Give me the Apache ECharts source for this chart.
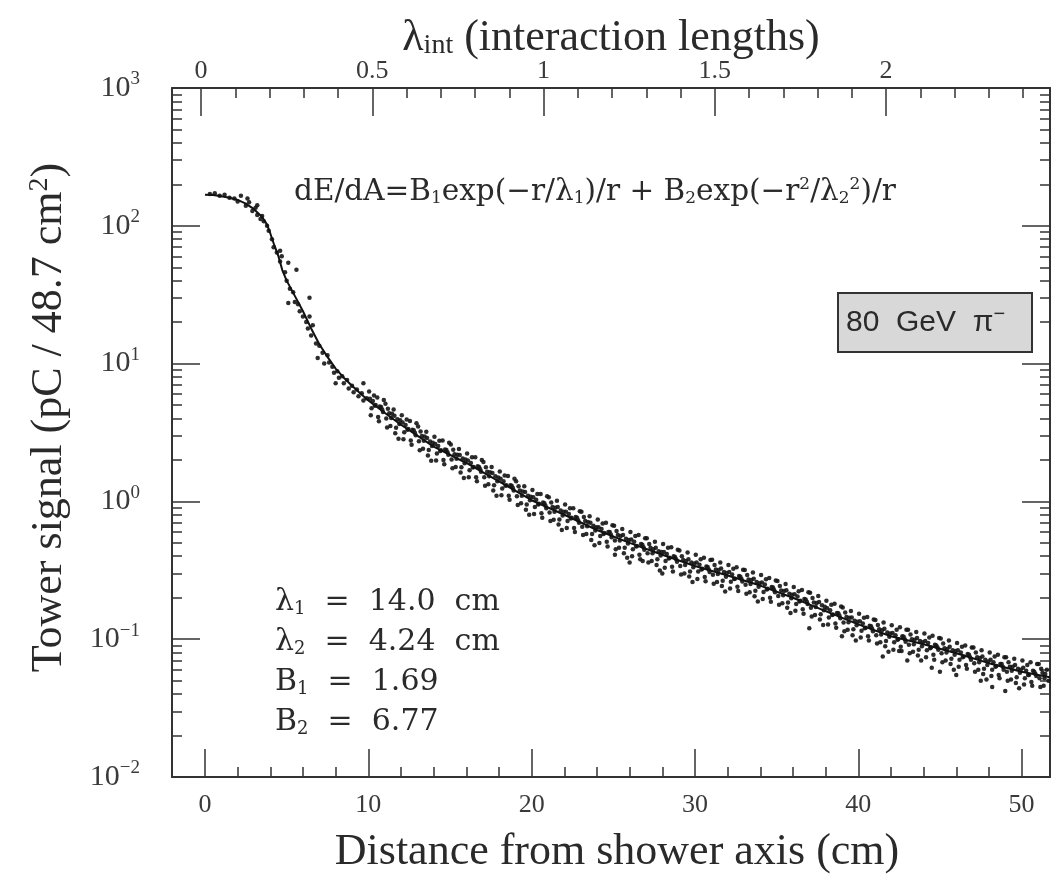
<!DOCTYPE html>
<html>
<head>
<meta charset="utf-8">
<title>Tower signal vs distance from shower axis</title>
<script src="https://cdn.jsdelivr.net/npm/echarts@6/dist/echarts.min.js"></script>
<style>
  html, body { margin: 0; padding: 0; background: #fff; }
  #chart { width: 1051px; height: 877px; }
</style>
</head>
<body>
<div id="chart"></div>
<script>
// fitted curve dE/dA (cm, pC)
const fitDist = [0, 0.5, 1, 1.5, 2, 2.5, 3, 3.5, 3.8, 4, 4.25, 4.5, 4.75, 5, 5.5, 6, 6.5, 7, 7.5, 8, 8.5, 9, 9.5, 10,
  11, 12, 13, 14, 16, 18, 20, 22, 24, 26, 28, 30, 32, 34, 36, 38, 40, 42, 44, 46, 48, 50, 51.74]
const fitSignal = [168, 167, 164, 160, 154, 145, 132, 116, 102, 88, 72, 60, 47, 40, 31, 24, 18, 13.8, 11.2, 9.2, 7.9, 6.9, 6.1, 5.4,
  4.4, 3.6, 3.0, 2.5, 1.9, 1.4, 1.02, 0.8, 0.62, 0.5, 0.41, 0.34, 0.29, 0.245, 0.2, 0.16, 0.128, 0.105, 0.092, 0.079, 0.067, 0.058, 0.053]

const pointsCore = [[0.3, 170], [0.6, 172], [0.9, 165], [1.2, 168], [1.5, 160], [1.8, 158], [2.0, 150], [2.2, 165], [2.5, 140],
  [2.6, 158], [2.7, 148], [2.9, 128], [3.1, 135], [3.2, 141], [3.2, 120], [3.4, 112], [3.5, 118], [3.6, 108], [3.8, 100],
  [3.9, 92], [4.1, 80], [4.2, 70], [4.4, 64], [4.6, 66], [4.6, 55], [4.7, 60], [4.9, 46], [5.0, 40], [5.1, 54], [5.1, 27.5],
  [5.2, 35], [5.4, 33], [5.5, 28], [5.6, 48], [5.7, 27], [5.8, 24], [6.0, 22], [6.2, 20], [6.3, 18], [6.4, 30], [6.4, 22],
  [6.5, 16], [6.6, 19], [6.8, 14], [6.9, 11], [7.0, 13.5], [7.2, 12], [7.3, 10], [7.5, 11.5], [7.6, 10.2], [7.8, 9.5],
  [7.9, 8.6], [8.0, 7.2], [8.1, 8.8], [8.2, 7.9], [8.4, 8.1], [8.5, 7.2], [8.7, 7.6], [8.8, 6.6], [9.0, 6.9], [9.1, 6.2],
  [9.3, 6.5], [9.4, 5.8], [9.6, 6.1], [9.7, 7.2], [9.7, 5.4], [9.9, 5.6]]

const pointsMid = [[10.1, 5.56], [10.2, 4.74], [10.35, 5.87], [10.45, 5.0], [10.6, 4.09], [10.7, 4.88], [10.85, 4.65], [10.95, 5.44],
  [11.1, 3.99], [11.2, 4.7], [11.35, 3.53], [11.45, 4.33], [11.6, 4.18], [11.7, 3.42], [11.85, 2.85], [11.95, 3.88],
  [12.1, 3.73], [12.2, 3.17], [12.35, 3.93], [12.45, 3.35], [12.6, 2.77], [12.7, 3.31], [12.85, 3.15], [12.95, 3.69],
  [13.1, 2.73], [13.2, 3.21], [13.35, 2.41], [13.45, 2.96], [13.6, 2.88], [13.7, 2.36], [13.85, 1.97], [13.95, 2.67],
  [14.1, 2.61], [14.2, 2.23], [14.35, 2.76], [14.45, 2.35], [14.6, 2.0], [14.7, 2.38], [14.85, 2.27], [14.95, 2.66],
  [15.1, 2.01], [15.2, 2.37], [15.35, 1.78], [15.45, 2.18], [15.6, 2.17], [15.7, 1.77], [15.85, 1.48], [15.95, 2.01],
  [16.1, 1.98], [16.2, 1.68], [16.35, 2.09], [16.45, 1.78], [16.6, 1.5], [16.7, 1.8], [16.85, 1.71], [16.95, 2.0],
  [17.1, 1.5], [17.2, 1.77], [17.35, 1.33], [17.45, 1.63], [17.6, 1.61], [17.7, 1.31], [17.85, 1.1], [17.95, 1.49],
  [18.1, 1.46], [18.2, 1.24], [18.35, 1.54], [18.45, 1.31], [18.6, 1.1], [18.7, 1.31], [18.85, 1.25], [18.95, 1.46],
  [19.1, 1.09], [19.2, 1.29], [19.35, 0.97], [19.45, 1.18], [19.6, 1.17], [19.7, 0.95], [19.85, 0.8], [19.95, 1.08],
  [20.1, 1.07], [20.2, 0.91], [20.35, 1.13], [20.45, 0.96], [20.6, 0.82], [20.7, 0.98], [20.85, 0.93], [20.95, 1.09],
  [21.1, 0.83], [21.2, 0.98], [21.35, 0.735], [21.45, 0.9], [21.6, 0.91], [21.7, 0.74], [21.85, 0.62], [21.95, 0.84],
  [22.1, 0.84], [22.2, 0.72], [22.35, 0.89], [22.45, 0.76], [22.6, 0.64], [22.7, 0.77], [22.85, 0.73], [22.95, 0.85],
  [23.1, 0.655], [23.2, 0.77], [23.35, 0.58], [23.45, 0.71], [23.6, 0.70], [23.7, 0.58], [23.85, 0.48], [23.95, 0.65],
  [24.1, 0.65], [24.2, 0.56], [24.35, 0.69], [24.45, 0.59], [24.6, 0.51], [24.7, 0.60], [24.85, 0.575], [24.95, 0.67],
  [25.1, 0.52], [25.2, 0.61], [25.35, 0.46], [25.45, 0.56], [25.6, 0.57], [25.7, 0.46], [25.85, 0.39], [25.95, 0.525],
  [26.1, 0.53], [26.2, 0.45], [26.35, 0.56], [26.45, 0.475], [26.6, 0.41], [26.7, 0.49], [26.85, 0.465], [26.95, 0.54],
  [27.1, 0.42], [27.2, 0.49], [27.35, 0.37], [27.45, 0.45], [27.6, 0.46], [27.7, 0.38], [27.85, 0.315], [27.95, 0.43],
  [28.1, 0.43], [28.2, 0.37], [28.35, 0.46], [28.45, 0.39], [28.6, 0.335], [28.7, 0.40], [28.85, 0.38], [28.95, 0.445],
  [29.1, 0.34], [29.2, 0.40], [29.35, 0.30], [29.45, 0.37], [29.6, 0.38], [29.7, 0.31], [29.85, 0.26], [29.95, 0.354]]

const pointsMid2 = [[10.05, 6.28], [10.15, 4.22], [10.28, 5.36], [10.4, 4.94], [10.55, 5.67], [10.65, 3.81], [10.78, 4.84], [10.9, 4.46],
  [11.05, 5.12], [11.15, 3.44], [11.28, 4.37], [11.4, 4.03], [11.55, 4.64], [11.65, 3.12], [11.78, 3.95], [11.9, 3.65],
  [12.05, 4.21], [12.15, 2.83], [12.28, 3.59], [12.4, 3.31], [12.55, 3.84], [12.65, 2.58], [12.78, 3.28], [12.9, 3.02],
  [13.05, 3.5], [13.15, 2.35], [13.28, 2.98], [13.4, 2.76], [13.55, 3.2], [13.65, 2.15], [13.78, 2.72], [13.9, 2.52],
  [14.05, 2.95], [14.15, 1.98], [14.28, 2.52], [14.4, 2.32], [14.55, 2.77], [14.65, 1.86], [14.78, 2.36], [14.9, 2.18],
  [15.05, 2.59], [15.15, 1.74], [15.28, 2.2], [15.4, 2.04], [15.55, 2.4], [15.65, 1.62], [15.78, 2.05], [15.9, 1.89],
  [16.05, 2.23], [16.15, 1.5], [16.28, 1.9], [16.4, 1.76], [16.55, 2.09], [16.65, 1.4], [16.78, 1.78], [16.9, 1.64],
  [17.05, 1.93], [17.15, 1.3], [17.28, 1.64], [17.4, 1.52], [17.55, 1.78], [17.65, 1.2], [17.78, 1.52], [17.9, 1.4],
  [18.05, 1.65], [18.15, 1.11], [18.28, 1.4], [18.4, 1.3], [18.55, 1.53], [18.65, 1.03], [18.78, 1.3], [18.9, 1.2],
  [19.05, 1.4], [19.15, 0.94], [19.28, 1.2], [19.4, 1.1], [19.55, 1.29], [19.65, 0.87], [19.78, 1.1], [19.9, 1.02],
  [20.05, 1.21], [20.15, 0.81], [20.28, 1.03], [20.4, 0.95], [20.55, 1.13], [20.65, 0.76], [20.78, 0.97], [20.9, 0.89],
  [21.05, 1.07], [21.15, 0.72], [21.28, 0.91], [21.4, 0.84], [21.55, 1.01], [21.65, 0.68], [21.78, 0.86], [21.9, 0.79],
  [22.05, 0.95], [22.15, 0.64], [22.28, 0.81], [22.4, 0.75], [22.55, 0.89], [22.65, 0.6], [22.78, 0.76], [22.9, 0.7],
  [23.05, 0.84], [23.15, 0.57], [23.28, 0.72], [23.4, 0.66], [23.55, 0.78], [23.65, 0.525], [23.78, 0.665], [23.9, 0.615],
  [24.05, 0.74], [24.15, 0.5], [24.28, 0.63], [24.4, 0.58], [24.55, 0.7], [24.65, 0.47], [24.78, 0.6], [24.9, 0.55],
  [25.05, 0.665], [25.15, 0.45], [25.28, 0.57], [25.4, 0.52], [25.55, 0.63], [25.65, 0.42], [25.78, 0.535], [25.9, 0.495],
  [26.05, 0.6], [26.15, 0.4], [26.28, 0.51], [26.4, 0.47], [26.55, 0.57], [26.65, 0.38], [26.78, 0.485], [26.9, 0.445],
  [27.05, 0.54], [27.15, 0.36], [27.28, 0.46], [27.4, 0.42], [27.55, 0.51], [27.65, 0.345], [27.78, 0.435], [27.9, 0.405],
  [28.05, 0.49], [28.15, 0.33], [28.28, 0.415], [28.4, 0.385], [28.55, 0.465], [28.65, 0.31], [28.78, 0.395], [28.9, 0.365],
  [29.05, 0.44], [29.15, 0.295], [29.28, 0.375], [29.4, 0.345], [29.55, 0.425], [29.65, 0.285], [29.78, 0.36], [29.9, 0.333]]

const pointsTail = [[30.1, 0.36], [30.2, 0.31], [30.35, 0.38], [30.45, 0.324], [30.6, 0.283], [30.7, 0.337], [30.85, 0.321], [30.95, 0.376],
  [31.1, 0.294], [31.2, 0.346], [31.35, 0.26], [31.45, 0.318], [31.6, 0.326], [31.7, 0.266], [31.85, 0.222], [31.95, 0.302],
  [32.1, 0.307], [32.2, 0.261], [32.35, 0.324], [32.45, 0.275], [32.6, 0.24], [32.7, 0.287], [32.85, 0.273], [32.95, 0.319],
  [33.1, 0.248], [33.2, 0.292], [33.35, 0.219], [33.45, 0.269], [33.6, 0.275], [33.7, 0.225], [33.85, 0.188], [33.95, 0.255],
  [34.1, 0.258], [34.2, 0.22], [34.35, 0.272], [34.45, 0.232], [34.6, 0.2], [34.7, 0.239], [34.85, 0.228], [34.95, 0.267],
  [35.1, 0.206], [35.2, 0.243], [35.35, 0.182], [35.45, 0.224], [35.6, 0.227], [35.7, 0.185], [35.85, 0.155], [35.95, 0.21],
  [36.1, 0.212], [36.2, 0.18], [36.35, 0.223], [36.45, 0.19], [36.6, 0.165], [36.7, 0.196], [36.85, 0.187], [36.95, 0.219],
  [37.1, 0.169], [37.2, 0.199], [37.35, 0.15], [37.45, 0.183], [37.6, 0.186], [37.7, 0.152], [37.85, 0.127], [37.95, 0.172],
  [38.1, 0.168], [38.2, 0.144], [38.35, 0.178], [38.45, 0.151], [38.6, 0.13], [38.7, 0.155], [38.85, 0.148], [38.95, 0.173],
  [39.1, 0.132], [39.2, 0.156], [39.35, 0.117], [39.45, 0.143], [39.6, 0.144], [39.7, 0.118], [39.85, 0.098], [39.95, 0.134],
  [40.1, 0.135], [40.2, 0.115], [40.35, 0.143], [40.45, 0.121], [40.6, 0.105], [40.7, 0.125], [40.85, 0.119], [40.95, 0.139],
  [41.1, 0.107], [41.2, 0.127], [41.35, 0.095], [41.45, 0.116], [41.6, 0.119], [41.7, 0.097], [41.85, 0.081], [41.95, 0.11],
  [42.1, 0.111], [42.2, 0.095], [42.35, 0.117], [42.45, 0.1], [42.6, 0.088], [42.7, 0.105], [42.85, 0.1], [42.95, 0.117],
  [43.1, 0.091], [43.2, 0.108], [43.35, 0.081], [43.45, 0.099], [43.6, 0.102], [43.7, 0.084], [43.85, 0.07], [43.95, 0.095],
  [44.1, 0.097], [44.2, 0.083], [44.35, 0.103], [44.45, 0.087], [44.6, 0.077], [44.7, 0.091], [44.85, 0.087], [44.95, 0.102],
  [45.1, 0.079], [45.2, 0.093], [45.35, 0.07], [45.45, 0.085], [45.6, 0.088], [45.7, 0.072], [45.85, 0.06], [45.95, 0.082],
  [46.1, 0.083], [46.2, 0.071], [46.35, 0.088], [46.45, 0.075], [46.6, 0.065], [46.7, 0.078], [46.85, 0.074], [46.95, 0.087],
  [47.1, 0.067], [47.2, 0.08], [47.35, 0.06], [47.45, 0.073], [47.6, 0.075], [47.7, 0.061], [47.85, 0.051], [47.95, 0.069],
  [48.1, 0.071], [48.2, 0.06], [48.35, 0.075], [48.45, 0.064], [48.6, 0.055], [48.7, 0.066], [48.85, 0.063], [48.95, 0.074],
  [49.1, 0.058], [49.2, 0.068], [49.35, 0.051], [49.45, 0.063], [49.6, 0.065], [49.7, 0.053], [49.85, 0.044], [49.95, 0.06],
  [50.1, 0.062], [50.2, 0.052], [50.35, 0.065], [50.45, 0.055], [50.6, 0.049], [50.7, 0.059], [50.85, 0.056], [50.95, 0.066],
  [51.1, 0.052], [51.2, 0.061], [51.35, 0.046], [51.45, 0.056]]

const pointsTail2 = [[30.05, 0.41], [30.15, 0.274], [30.28, 0.347], [30.4, 0.32], [30.55, 0.39], [30.65, 0.263], [30.78, 0.334], [30.9, 0.308],
  [31.05, 0.377], [31.15, 0.253], [31.28, 0.321], [31.4, 0.297], [31.55, 0.361], [31.65, 0.243], [31.78, 0.308], [31.9, 0.284],
  [32.05, 0.346], [32.15, 0.233], [32.28, 0.295], [32.4, 0.273], [32.55, 0.333], [32.65, 0.224], [32.78, 0.284], [32.9, 0.262],
  [33.05, 0.318], [33.15, 0.214], [33.28, 0.271], [33.4, 0.251], [33.55, 0.305], [33.65, 0.205], [33.78, 0.26], [33.9, 0.24],
  [34.05, 0.292], [34.15, 0.196], [34.28, 0.249], [34.4, 0.229], [34.55, 0.278], [34.65, 0.187], [34.78, 0.237], [34.9, 0.219],
  [35.05, 0.265], [35.15, 0.178], [35.28, 0.226], [35.4, 0.208], [35.55, 0.251], [35.65, 0.169], [35.78, 0.214], [35.9, 0.198],
  [36.05, 0.239], [36.15, 0.161], [36.28, 0.204], [36.4, 0.188], [36.55, 0.228], [36.65, 0.153], [36.78, 0.194], [36.9, 0.18],
  [37.05, 0.217], [37.15, 0.146], [37.28, 0.185], [37.4, 0.171], [37.55, 0.206], [37.65, 0.139], [37.78, 0.176], [37.9, 0.162],
  [38.05, 0.19], [38.15, 0.128], [38.28, 0.162], [38.4, 0.15], [38.55, 0.181], [38.65, 0.121], [38.78, 0.154], [38.9, 0.142],
  [39.05, 0.17], [39.15, 0.114], [39.28, 0.145], [39.4, 0.133], [39.55, 0.16], [39.65, 0.107], [39.78, 0.136], [39.9, 0.126],
  [40.05, 0.153], [40.15, 0.103], [40.28, 0.13], [40.4, 0.12], [40.55, 0.145], [40.65, 0.098], [40.78, 0.124], [40.9, 0.114],
  [41.05, 0.138], [41.15, 0.093], [41.28, 0.118], [41.4, 0.108], [41.55, 0.132], [41.65, 0.089], [41.78, 0.112], [41.9, 0.104],
  [42.05, 0.126], [42.15, 0.084], [42.28, 0.107], [42.4, 0.099], [42.55, 0.122], [42.65, 0.082], [42.78, 0.104], [42.9, 0.096],
  [43.05, 0.117], [43.15, 0.079], [43.28, 0.1], [43.4, 0.092], [43.55, 0.113], [43.65, 0.076], [43.78, 0.097], [43.9, 0.089],
  [44.05, 0.11], [44.15, 0.074], [44.28, 0.094], [44.4, 0.086], [44.55, 0.106], [44.65, 0.071], [44.78, 0.09], [44.9, 0.084],
  [45.05, 0.101], [45.15, 0.068], [45.28, 0.086], [45.4, 0.08], [45.55, 0.098], [45.65, 0.066], [45.78, 0.083], [45.9, 0.077],
  [46.05, 0.094], [46.15, 0.063], [46.28, 0.08], [46.4, 0.074], [46.55, 0.09], [46.65, 0.061], [46.78, 0.077], [46.9, 0.071],
  [47.05, 0.087], [47.15, 0.058], [47.28, 0.074], [47.4, 0.068], [47.55, 0.083], [47.65, 0.056], [47.78, 0.071], [47.9, 0.065],
  [48.05, 0.08], [48.15, 0.054], [48.28, 0.068], [48.4, 0.063], [48.55, 0.077], [48.65, 0.052], [48.78, 0.066], [48.9, 0.06],
  [49.05, 0.074], [49.15, 0.05], [49.28, 0.063], [49.4, 0.059], [49.55, 0.072], [49.65, 0.048], [49.78, 0.061], [49.9, 0.057],
  [50.05, 0.07], [50.15, 0.047], [50.28, 0.059], [50.4, 0.055], [50.55, 0.068], [50.65, 0.046], [50.78, 0.058], [50.9, 0.054],
  [51.05, 0.066], [51.15, 0.045], [51.28, 0.057], [51.4, 0.052], [51.55, 0.06], [51.65, 0.05]]

// scattered low points
const pointsStray = [[25.1, 0.41], [26.0, 0.36], [26.8, 0.37], [28.0, 0.3], [37.0, 0.12], [39.0, 0.105], [41.5, 0.075],
  [42.5, 0.082], [43.0, 0.07], [44.5, 0.062], [45.0, 0.058], [46.0, 0.055], [47.5, 0.05], [48.2, 0.045], [49.0, 0.042]]

// tick labels
const distTicks = [0, 10, 20, 30, 40, 50]
const distMinor = [2, 4, 6, 8, 12, 14, 16, 18, 22, 24, 26, 28, 32, 34, 36, 38, 42, 44, 46, 48]
const lambdaTicks = [0, 0.5, 1, 1.5, 2]
const lambdaMinor = [0.1, 0.2, 0.3, 0.4, 0.6, 0.7, 0.8, 0.9, 1.1, 1.2, 1.3, 1.4, 1.6, 1.7, 1.8, 1.9, 2.1, 2.2, 2.3, 2.4]
const signalDecades = [-2, -1, 0, 1, 2]
const signalMinor = [2, 3, 4, 5, 6, 7, 8, 9]

const serif = 'Liberation Serif'
const ink = '#2a2a2a'

// minor ticks of the log axis, placed on a log10 value axis
const logMinor = []
signalDecades.forEach(d => {
  signalMinor.forEach(m => {
    logMinor.push(d + Math.log10(m))
  })
})

const myChart = echarts.init(document.getElementById('chart'))

function frameX(pos, min, max, ticks, len, extra) {
  return Object.assign({
    type: 'value',
    position: pos,
    min: min,
    max: max,
    axisLine: { show: false, onZero: false },
    axisTick: { show: true, inside: true, length: len, customValues: ticks, lineStyle: { color: '#333', width: 1.5 } },
    axisLabel: { show: false },
    splitLine: { show: false }
  }, extra || {})
}

function logLabel(v) {
  const e = Math.round(Math.log10(v))
  return '{b|10}{s|' + (e < 0 ? '\u2212' + (-e) : e) + '}'
}

const frameLine = { show: true, onZero: false, lineStyle: { color: '#333', width: 2 } }

const option = {
  animation: false,
  backgroundColor: '#fff',
  grid: { left: 172, right: 1, top: 88, bottom: 100, outerBoundsMode: 'none' },
  xAxis: [
    frameX('bottom', -2.02, 51.74, distTicks, 28, {
      axisLine: frameLine,
      name: 'Distance from shower axis (cm)',
      nameLocation: 'middle',
      nameGap: 53,
      nameMoveOverlap: false,
      nameTextStyle: { fontFamily: serif, fontSize: 44, color: ink, padding: [0, 0, 0, 12] },
      axisLabel: { show: true, customValues: distTicks, fontFamily: serif, fontSize: 26, color: '#3a3a3a', margin: 15 }
    }),
    frameX('bottom', -2.02, 51.74, distMinor, 10),
    frameX('top', -0.0847, 2.4788, lambdaTicks, 28, {
      axisLine: frameLine,
      name: '{l|\u03bb}{sub|int} (interaction lengths)',
      nameLocation: 'middle',
      nameGap: 28,
      nameMoveOverlap: false,
      nameTextStyle: {
        fontFamily: serif, fontSize: 44, color: ink,
        rich: {
          l: { fontFamily: serif, fontSize: 44, color: ink },
          sub: { fontFamily: serif, fontSize: 28, color: ink, padding: [16, 0, 0, 0] }
        }
      },
      axisLabel: { show: true, customValues: lambdaTicks, fontFamily: serif, fontSize: 26, color: '#3a3a3a', margin: 4 }
    }),
    frameX('top', -0.0847, 2.4788, lambdaMinor, 10)
  ],
  yAxis: [
    {
      type: 'log',
      position: 'left',
      min: 0.01,
      max: 1000,
      interval: 1,
      axisLine: frameLine,
      axisTick: { show: true, inside: true, length: 28, lineStyle: { color: '#333', width: 1.5 } },
      axisLabel: {
        margin: 32,
        formatter: logLabel,
        rich: {
          b: { fontFamily: serif, fontSize: 30, color: '#3a3a3a' },
          s: { fontFamily: serif, fontSize: 19, color: '#3a3a3a', padding: [0, 0, 17, 0] }
        }
      },
      splitLine: { show: false },
      name: 'Tower signal (pC / 48.7 cm{s|2})',
      nameLocation: 'middle',
      nameGap: 100,
      nameMoveOverlap: false,
      nameTextStyle: {
        fontFamily: serif, fontSize: 44, color: ink, padding: [0, 0, 0, 30],
        rich: { s: { fontFamily: serif, fontSize: 28, color: ink, padding: [0, 0, 18, 0] } }
      }
    },
    {
      type: 'value',
      position: 'left',
      min: -2,
      max: 3,
      axisLine: { show: false, onZero: false },
      axisTick: { show: true, inside: true, length: 10, customValues: logMinor, lineStyle: { color: '#333', width: 1.5 } },
      axisLabel: { show: false },
      splitLine: { show: false }
    },
    {
      type: 'log',
      position: 'right',
      min: 0.01,
      max: 1000,
      interval: 1,
      axisLine: frameLine,
      axisTick: { show: true, inside: true, length: 28, lineStyle: { color: '#333', width: 1.5 } },
      axisLabel: { show: false },
      splitLine: { show: false }
    },
    {
      type: 'value',
      position: 'right',
      min: -2,
      max: 3,
      axisLine: { show: false, onZero: false },
      axisTick: { show: true, inside: true, length: 10, customValues: logMinor, lineStyle: { color: '#333', width: 1.5 } },
      axisLabel: { show: false },
      splitLine: { show: false }
    }
  ],
  graphic: [
    {
      type: 'text',
      x: 294,
      y: 192,
      style: {
        text: 'dE/dA=B{sub|1}exp(\u2212r/\u03bb{sub|1})/r + B{sub|2}exp(\u2212r{sup|2}/\u03bb{sub|2}{sup|2})/r',
        fontFamily: 'DejaVu Serif',
        fontSize: 29.5,
        fill: ink,
        verticalAlign: 'middle',
        rich: {
          sub: { fontFamily: 'DejaVu Serif', fontSize: 17, fill: ink, padding: [14, 0, 0, 0] },
          sup: { fontFamily: 'DejaVu Serif', fontSize: 17, fill: ink, padding: [0, 0, 14, 0] }
        }
      }
    },
    {
      type: 'rect',
      shape: { x: 838, y: 293, width: 194, height: 59 },
      style: { fill: '#d8d8d8', stroke: '#333', lineWidth: 2 }
    },
    {
      type: 'text',
      x: 846,
      y: 323,
      style: {
        text: '80  GeV  \u03c0{s|\u2212}',
        fontFamily: 'Liberation Sans',
        fontSize: 30,
        fill: ink,
        verticalAlign: 'middle',
        rich: { s: { fontFamily: 'Liberation Sans', fontSize: 20, fill: ink, padding: [0, 0, 18, 0] } }
      }
    }
  ].concat([
    ['\u03bb', '1', '14.0  cm', 602],
    ['\u03bb', '2', '4.24  cm', 642],
    ['B', '1', '1.69', 682],
    ['B', '2', '6.77', 722]
  ].map(p => ({
    type: 'text',
    x: 275,
    y: p[3],
    style: {
      text: p[0] + '{sub|' + p[1] + '}  =  ' + p[2],
      fontFamily: 'DejaVu Serif',
      fontSize: 30,
      fill: ink,
      verticalAlign: 'middle',
      rich: { sub: { fontFamily: 'DejaVu Serif', fontSize: 18, fill: ink, padding: [14, 0, 0, 0] } }
    }
  }))),
  series: [
    {
      name: 'towers',
      type: 'scatter',
      xAxisIndex: 0,
      yAxisIndex: 0,
      symbol: 'circle',
      symbolSize: 4.5,
      itemStyle: { color: '#151515', opacity: 0.9 },
      data: pointsCore.concat(pointsMid, pointsMid2, pointsTail, pointsTail2, pointsStray)
    },
    {
      name: 'fit',
      type: 'line',
      xAxisIndex: 0,
      yAxisIndex: 0,
      symbol: 'none',
      lineStyle: { color: '#111', width: 2 },
      data: fitDist.map((d, i) => [d, fitSignal[i]])
    }
  ]
}

myChart.setOption(option)
</script>
</body>
</html>
